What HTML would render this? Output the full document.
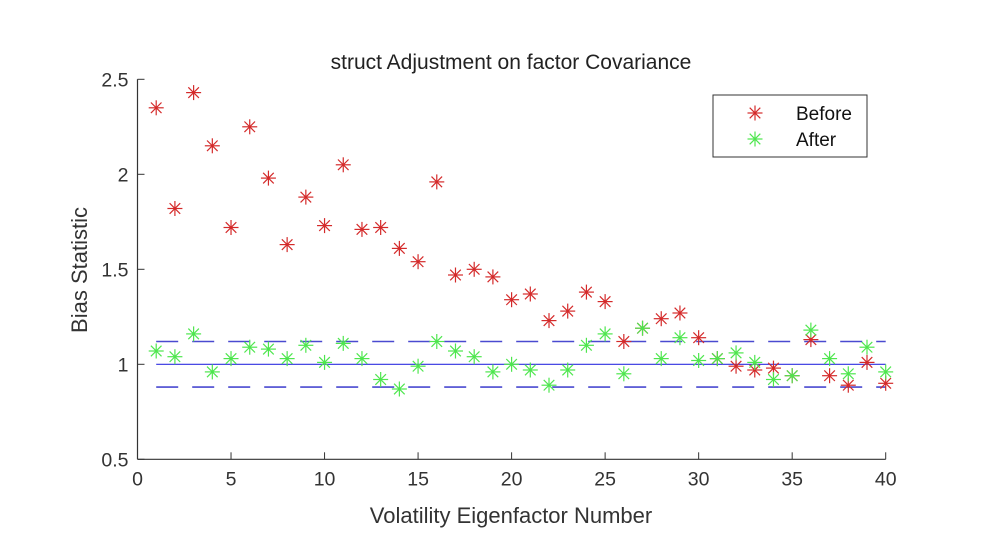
<!DOCTYPE html>
<html><head><meta charset="utf-8"><style>
body{margin:0;background:#fff;}
svg{display:block;font-family:"Liberation Sans",Arial,sans-serif;}
</style></head><body>
<svg id="chart" width="1000" height="536" viewBox="0 0 1000 536">
<text x="511" y="69" font-size="21" text-anchor="middle" fill="#222">struct Adjustment on factor Covariance</text>
<text x="511" y="523" font-size="22" text-anchor="middle" fill="#333">Volatility Eigenfactor Number</text>
<text x="0" y="0" font-size="22" text-anchor="middle" fill="#333" transform="translate(87,270) rotate(-90)">Bias Statistic</text>
<g id="axes"></g>
<g id="marks"></g>
<g>
<rect x="713" y="95" width="154" height="62" fill="#fff" stroke="#333" stroke-width="1"/>
<g id="leg"></g>
<text x="796" y="120" font-size="19" fill="#111">Before</text>
<text x="796" y="146" font-size="19" fill="#111">After</text>
</g>
</svg>
<script>
const factors=[1,2,3,4,5,6,7,8,9,10,11,12,13,14,15,16,17,18,19,20,21,22,23,24,25,26,27,28,29,30,31,32,33,34,35,36,37,38,39,40];
const before=[2.35,1.82,2.43,2.15,1.72,2.25,1.98,1.63,1.88,1.73,2.05,1.71,1.72,1.61,1.54,1.96,1.47,1.50,1.46,1.34,1.37,1.23,1.28,1.38,1.33,1.12,1.19,1.24,1.27,1.14,1.03,0.99,0.97,0.98,0.94,1.13,0.94,0.89,1.01,0.90];
const after=[1.07,1.04,1.16,0.96,1.03,1.09,1.08,1.03,1.10,1.01,1.11,1.03,0.92,0.87,0.99,1.12,1.07,1.04,0.96,1.00,0.97,0.89,0.97,1.10,1.16,0.95,1.19,1.03,1.14,1.02,1.03,1.06,1.01,0.92,0.94,1.18,1.03,0.95,1.09,0.96];
const xTicks=[0,5,10,15,20,25,30,35,40];
const yTicks=[0.5,1,1.5,2,2.5];
const refLines=[1.12,1,0.88];
const NS='http://www.w3.org/2000/svg';
const X=v=>137.5+v*18.705;
const Y=v=>364.3-(v-1)*190;
function mk(t,a,p){const e=document.createElementNS(NS,t);for(const k in a)e.setAttribute(k,a[k]);p.appendChild(e);return e;}
const ax=document.getElementById('axes');
mk('line',{x1:X(0),y1:Y(0.5),x2:X(40),y2:Y(0.5),stroke:'#333','stroke-width':1.2},ax);
mk('line',{x1:X(0),y1:Y(0.5),x2:X(0),y2:Y(2.5),stroke:'#333','stroke-width':1.2},ax);
xTicks.forEach(t=>{
 const l=mk('line',{x1:X(t),y1:Y(0.5),x2:X(t),y2:Y(0.5)-7,stroke:'#333'},ax);
 
 
 const tx=mk('text',{x:X(t),y:Y(0.5)+26,'font-size':19.5,'text-anchor':'middle',fill:'#333'},ax);
 tx.textContent=t;
 
 
});
yTicks.forEach(t=>{
 const l=mk('line',{x1:X(0),y1:Y(t),x2:X(0)+7,y2:Y(t),stroke:'#333'},ax);
 
 
 const tx=mk('text',{x:X(0)-9,y:Y(t)+7,'font-size':19.5,'text-anchor':'end',fill:'#333'},ax);
 tx.textContent=t;
 
 
});
const mg=document.getElementById('marks');
refLines.forEach((r,i)=>{
 const l=mk('line',{x1:X(1),y1:Y(r),x2:X(40),y2:Y(r),stroke:i==1?'#3030e0':'#4a4ad0','stroke-width':i==1?1.2:1.6},mg);
 if(i!=1)l.setAttribute('stroke-dasharray','22 14');
 
 
});
function star(cx,cy,col,p,s){
 const g=mk('g',{stroke:col,'stroke-width':1.2,fill:'none'},p);
 const d=s*0.707;
 mk('line',{x1:cx-s,y1:cy,x2:cx+s,y2:cy},g);
 mk('line',{x1:cx,y1:cy-s,x2:cx,y2:cy+s},g);
 mk('line',{x1:cx-d,y1:cy-d,x2:cx+d,y2:cy+d},g);
 mk('line',{x1:cx-d,y1:cy+d,x2:cx+d,y2:cy-d},g);
 return g;
}
factors.forEach((f,i)=>{
 const g=star(X(f),Y(before[i]),'#d42a2a',mg,7.5);
 
 
});
factors.forEach((f,i)=>{
 const g=star(X(f),Y(after[i]),'#4ee64e',mg,7.5);
 
 
});
const leg=document.getElementById('leg');
const g1=star(755,113,'#d42a2a',leg,7.5);


const g2=star(755,139,'#4ee64e',leg,7.5);


</script>
</body></html>
